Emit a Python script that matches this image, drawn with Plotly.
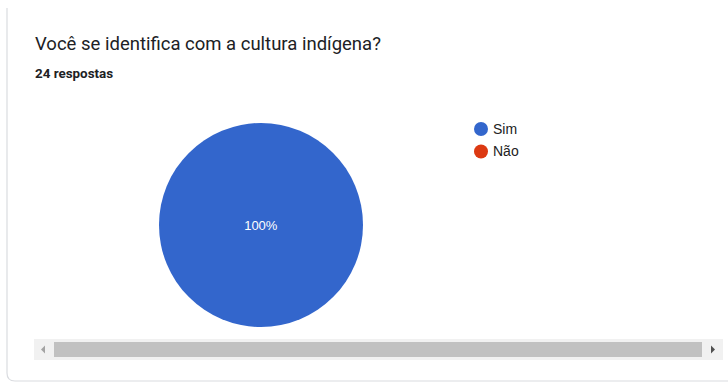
import plotly.graph_objects as go

# Survey answers
question = "Você se identifica com a cultura indígena?"
summary = "24 respostas"
categories = ["Sim", "Não"]
counts = [24, 0]
colors = ["#3366cc", "#dc3912"]

W, H = 728, 383


def px(x):
    return x / W


def py(y):
    return 1 - y / H


fig = go.Figure()

# Pie: centre (261, 225), radius 102 px
cx, cy, r = 261, 225, 102
fig.add_trace(go.Pie(
    labels=categories,
    values=counts,
    marker=dict(colors=colors, line=dict(width=0)),
    sort=False,
    direction="clockwise",
    textinfo="percent",
    texttemplate="%{percent:.0%}",
    textposition="inside",
    insidetextorientation="horizontal",
    textfont=dict(family="Liberation Sans, Arial", size=13, color="#ffffff"),
    showlegend=False,
    hoverinfo="label+value+percent",
    domain=dict(x=[px(cx - r), px(cx + r)], y=[py(cy + r), py(cy - r)]),
))

shapes = []
annotations = []

# Card outline (left edge with rounded bottom corner)
shapes.append(dict(
    type="path", xref="paper", yref="paper",
    path=f"M {px(7)},{py(8)} L {px(7)},{py(373)} Q {px(7)},{py(381)} {px(15)},{py(381)} L {px(728)},{py(381)}",
    line=dict(color="#dadce0", width=1.2),
))

# Header texts
annotations.append(dict(
    text=question, x=px(33), y=py(44), xref="paper", yref="paper",
    xanchor="left", yanchor="middle", showarrow=False,
    font=dict(family="Roboto", size=18.5, color="#202124"),
))
annotations.append(dict(
    text=f"<b>{summary}</b>", x=px(33), y=py(74), xref="paper", yref="paper",
    xanchor="left", yanchor="middle", showarrow=False,
    font=dict(family="Roboto", size=13.4, color="#202124"),
))

# Legend with circular swatches
leg_x, leg_y0, leg_dy, dot_r = 481, 129, 22.5, 7
for i, (cat, col) in enumerate(zip(categories, colors)):
    yy = leg_y0 + i * leg_dy
    shapes.append(dict(
        type="circle", xref="paper", yref="paper",
        x0=px(leg_x - dot_r), x1=px(leg_x + dot_r),
        y0=py(yy + dot_r), y1=py(yy - dot_r),
        fillcolor=col, line=dict(width=0),
    ))
    annotations.append(dict(
        text=cat, x=px(leg_x + 10), y=py(yy), xref="paper", yref="paper",
        xanchor="left", yanchor="middle", showarrow=False,
        font=dict(family="Liberation Sans, Arial", size=14, color="#222222"),
    ))

# Horizontal scrollbar
shapes.append(dict(type="rect", xref="paper", yref="paper",
                   x0=px(34), x1=px(723), y0=py(360), y1=py(339),
                   fillcolor="#f1f1f1", line=dict(width=0), layer="below"))
shapes.append(dict(type="rect", xref="paper", yref="paper",
                   x0=px(54), x1=px(702), y0=py(357), y1=py(342),
                   fillcolor="#c1c1c1", line=dict(width=0)))
shapes.append(dict(type="path", xref="paper", yref="paper",
                   path=f"M {px(41)},{py(349.5)} L {px(45)},{py(345.5)} L {px(45)},{py(353.5)} Z",
                   fillcolor="#a3a3a3", line=dict(width=0)))
shapes.append(dict(type="path", xref="paper", yref="paper",
                   path=f"M {px(715)},{py(349.5)} L {px(711)},{py(345.5)} L {px(711)},{py(353.5)} Z",
                   fillcolor="#505050", line=dict(width=0)))

fig.update_layout(
    width=W, height=H,
    margin=dict(l=0, r=0, t=0, b=0),
    paper_bgcolor="#ffffff",
    plot_bgcolor="#ffffff",
    shapes=shapes,
    annotations=annotations,
)

fig.write_html("out.html")
